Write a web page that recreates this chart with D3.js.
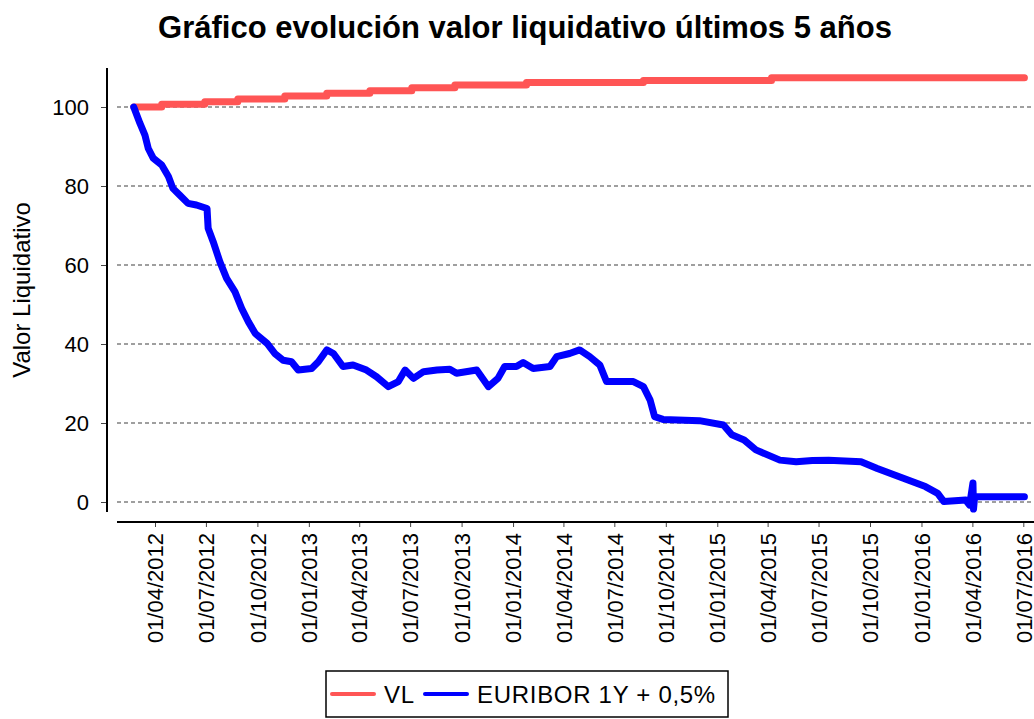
<!DOCTYPE html>
<html>
<head>
<meta charset="utf-8">
<script src="https://cdn.jsdelivr.net/npm/d3@7"></script>
<style>
  body { margin: 0; background: #fff; }
  text { font-family: "Liberation Sans", Arial, sans-serif; fill: #000; }
</style>
</head>
<body>
<div id="canvas"></div>
<script>
// series names (legend order)
const seriesNames = ["VL", "EURIBOR 1Y + 0,5%"];

// VL: stepped line
const vlDates = ["2012-02-23", "2012-04-13", "2012-06-29", "2012-08-27", "2012-11-19", "2013-02-02",
  "2013-04-20", "2013-07-04", "2013-09-19", "2014-01-25", "2014-08-22", "2015-04-08", "2016-07-03"];
const vlValues = [100, 100.7, 101.3, 102.0, 102.8, 103.5, 104.1, 104.9, 105.6, 106.2, 106.7, 107.4, 107.4];

// EURIBOR 1Y + 0,5%
const eurDates = ["2012-02-23", "2012-03-05", "2012-03-14", "2012-03-20", "2012-03-29", "2012-04-13",
  "2012-04-25", "2012-05-03", "2012-05-15", "2012-05-30", "2012-06-14", "2012-07-03", "2012-07-05",
  "2012-07-14", "2012-07-26", "2012-08-07", "2012-08-22", "2012-09-03", "2012-09-15", "2012-09-27",
  "2012-10-18", "2012-11-01", "2012-11-16", "2012-12-01", "2012-12-13", "2013-01-06", "2013-01-18",
  "2013-02-02", "2013-02-14", "2013-03-03", "2013-03-21", "2013-04-14", "2013-05-02", "2013-05-23",
  "2013-06-10", "2013-06-22", "2013-07-07", "2013-07-25", "2013-08-18", "2013-09-10", "2013-09-22",
  "2013-10-28", "2013-11-18", "2013-12-05", "2013-12-17", "2014-01-07", "2014-01-19", "2014-02-06",
  "2014-03-08", "2014-03-20", "2014-04-12", "2014-04-30", "2014-05-18", "2014-06-05", "2014-06-17",
  "2014-08-04", "2014-08-22", "2014-09-03", "2014-09-11", "2014-09-26", "2014-11-30", "2015-01-12",
  "2015-01-27", "2015-02-18", "2015-03-11", "2015-04-23", "2015-05-22", "2015-06-20", "2015-07-19",
  "2015-09-15", "2015-10-14", "2016-01-08", "2016-01-30", "2016-02-10", "2016-03-20", "2016-03-27",
  "2016-04-02", "2016-04-03", "2016-04-05", "2016-07-03"];
const eurValues = [100, 95.9, 92.9, 89.5, 87.0, 85.3,
  82.4, 79.4, 77.7, 75.6, 75.2, 74.3, 69.3,
  65.9, 60.8, 56.6, 53.2, 49.0, 45.6, 42.7,
  40.2, 37.6, 35.9, 35.5, 33.4, 33.8, 35.5,
  38.5, 37.6, 34.3, 34.7, 33.4, 31.7, 29.2,
  30.5, 33.4, 31.3, 33.0, 33.4, 33.6, 32.6,
  33.4, 29.2, 31.3, 34.3, 34.3, 35.3, 33.8,
  34.3, 36.8, 37.6, 38.5, 36.8, 34.7, 30.5,
  30.5, 29.2, 25.8, 21.6, 20.9, 20.6, 19.5,
  17.0, 15.7, 13.2, 10.6, 10.2, 10.5, 10.6,
  10.2, 8.5, 3.9, 2.2, 0.1, 0.5, -0.8,
  4.8, -1.8, 1.3, 1.3];

const xTicks = ["2012-04-01", "2012-07-01", "2012-10-01", "2013-01-01", "2013-04-01", "2013-07-01",
  "2013-10-01", "2014-01-01", "2014-04-01", "2014-07-01", "2014-10-01", "2015-01-01", "2015-04-01",
  "2015-07-01", "2015-10-01", "2016-01-01", "2016-04-01", "2016-07-01"];
const yTicks = [0, 20, 40, 60, 80, 100];

const colors = ["#ff5555", "#0000ff"];

const width = 1034, height = 719;
const parse = d3.utcParse("%Y-%m-%d");
const fmt = d3.utcFormat("%d/%m/%Y");

const svg = d3.select("#canvas").append("svg")
  .attr("width", width)
  .attr("height", height);

// scales
const x = d3.scaleUtc()
  .domain([parse("2012-04-01"), parse("2016-07-01")])
  .range([155, 1023.3]);
const y = d3.scaleLinear()
  .domain([0, 100])
  .range([502, 107]);

const plotLeft = 117, plotRight = 1034, plotTop = 68, plotBottom = 512, xAxisY = 522, yAxisX = 107;

// title
svg.append("text")
  .attr("x", 525)
  .attr("y", 38)
  .attr("text-anchor", "middle")
  .style("font-size", "31px")
  .style("font-weight", "bold")
  .text("Gráfico evolución valor liquidativo últimos 5 años");

// gridlines
svg.append("g")
  .selectAll("line")
  .data(yTicks)
  .enter()
  .append("line")
  .attr("x1", plotLeft)
  .attr("x2", plotRight)
  .attr("y1", d => y(d))
  .attr("y2", d => y(d))
  .attr("stroke", "#808080")
  .attr("stroke-width", 1.3)
  .attr("stroke-dasharray", "4,3");

// y axis
const yAxis = svg.append("g")
  .attr("transform", "translate(" + yAxisX + ",0)")
  .call(d3.axisLeft(y).tickValues(yTicks).tickSize(6).tickPadding(12));
yAxis.select(".domain").remove();
yAxis.selectAll(".tick line").attr("stroke", "#444");
yAxis.selectAll(".tick text")
  .style("font-size", "22px")
  .style("font-family", "'Liberation Sans', Arial, sans-serif");
yAxis.append("line")
  .attr("y1", plotTop)
  .attr("y2", plotBottom)
  .attr("stroke", "#000")
  .attr("stroke-width", 2);

svg.append("text")
  .attr("transform", "translate(22,290) rotate(-90)")
  .attr("text-anchor", "middle")
  .attr("dy", "0.35em")
  .style("font-size", "24px")
  .text("Valor Liquidativo");

// x axis
const xAxis = svg.append("g")
  .attr("transform", "translate(0," + xAxisY + ")")
  .call(d3.axisBottom(x).tickValues(xTicks.map(parse)).tickSize(5).tickFormat(fmt));
xAxis.select(".domain").remove();
xAxis.selectAll(".tick line").attr("stroke", "#444");
xAxis.selectAll(".tick text")
  .style("font-size", "22px")
  .style("font-family", "'Liberation Sans', Arial, sans-serif")
  .attr("transform", "rotate(-90)")
  .attr("text-anchor", "end")
  .attr("x", -11)
  .attr("y", 0)
  .attr("dy", "0.35em");
xAxis.append("line")
  .attr("x1", plotLeft)
  .attr("x2", plotRight)
  .attr("stroke", "#000")
  .attr("stroke-width", 2);

// lines
const vlData = vlDates.map((d, i) => ({ date: parse(d), value: vlValues[i] }));
const eurData = eurDates.map((d, i) => ({ date: parse(d), value: eurValues[i] }));

const stepLine = d3.line()
  .x(d => x(d.date))
  .y(d => y(d.value))
  .curve(d3.curveStepAfter);
const plainLine = d3.line()
  .x(d => x(d.date))
  .y(d => y(d.value));

svg.append("path")
  .datum(vlData)
  .attr("d", stepLine)
  .attr("fill", "none")
  .attr("stroke", colors[0])
  .attr("stroke-width", 7)
  .attr("stroke-linejoin", "round")
  .attr("stroke-linecap", "round");

svg.append("path")
  .datum(eurData)
  .attr("d", plainLine)
  .attr("fill", "none")
  .attr("stroke", colors[1])
  .attr("stroke-width", 7)
  .attr("stroke-linejoin", "round")
  .attr("stroke-linecap", "round");

// legend
const legend = svg.append("g");
legend.append("rect")
  .attr("x", 326)
  .attr("y", 671)
  .attr("width", 402)
  .attr("height", 46)
  .attr("fill", "#fff")
  .attr("stroke", "#000")
  .attr("stroke-width", 1.5);

const legendItems = [
  { name: seriesNames[0], color: colors[0], x: 332 },
  { name: seriesNames[1], color: colors[1], x: 425 }
];
const item = legend.selectAll(".legend-item")
  .data(legendItems)
  .enter()
  .append("g")
  .attr("class", "legend-item")
  .attr("transform", d => "translate(" + d.x + ",694)");
item.append("line")
  .attr("x1", 0)
  .attr("x2", 42)
  .attr("stroke", d => d.color)
  .attr("stroke-width", 4)
  .attr("stroke-linecap", "round");
item.append("text")
  .attr("x", 52)
  .attr("dy", "0.36em")
  .style("font-size", "24px")
  .style("letter-spacing", "0.7px")
  .text(d => d.name);
</script>
</body>
</html>
